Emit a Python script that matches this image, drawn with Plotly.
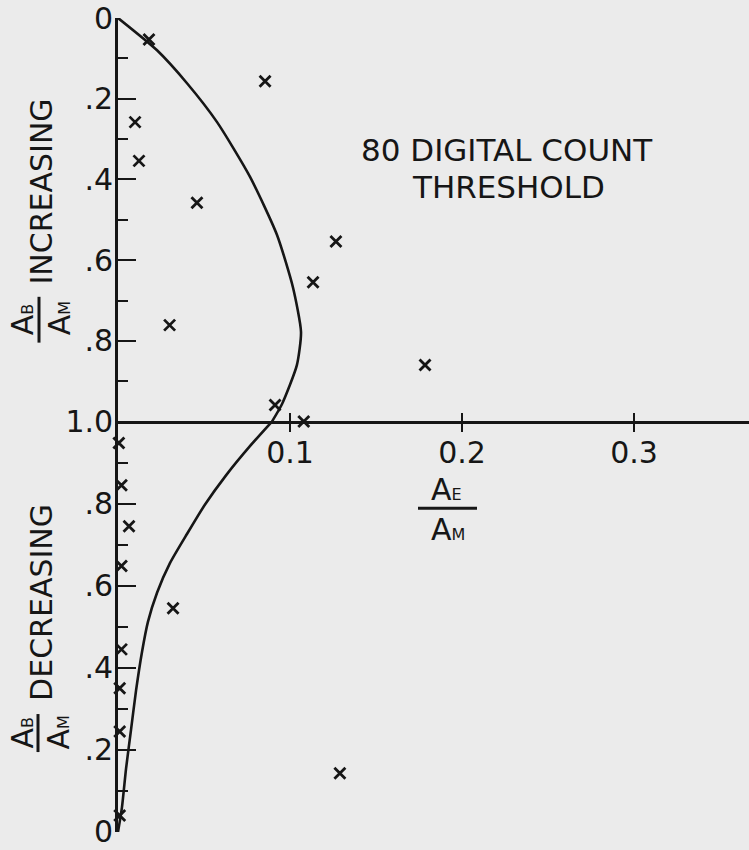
import plotly.graph_objects as go

# ---------------- data ----------------
# upper half: A_B/A_M increasing (0 at top, 1.0 at the x axis)
inc_x = [0.018, 0.0855, 0.0099, 0.0122, 0.0459, 0.1267, 0.1134, 0.030, 0.1785, 0.0913, 0.108]
inc_y = [0.053, 0.157, 0.258, 0.354, 0.458, 0.554, 0.655, 0.761, 0.860, 0.959, 1.0]

# lower half: A_B/A_M decreasing (1.0 at the x axis, 0 at bottom)
dec_x = [0.0005, 0.002, 0.0064, 0.002, 0.032, 0.002, 0.001, 0.001, 0.129, 0.001]
dec_y = [0.948, 0.845, 0.745, 0.648, 0.545, 0.445, 0.350, 0.245, 0.143, 0.040]

# fitted curve, upper branch
curve_inc_x = [0.0, 0.0227, 0.040, 0.0576, 0.0767, 0.0924, 0.1017, 0.1064, 0.104, 0.0953, 0.0895]
curve_inc_y = [0.0, 0.080, 0.161, 0.258, 0.393, 0.537, 0.667, 0.778, 0.860, 0.957, 1.0]

# fitted curve, lower branch
curve_dec_x = [0.0895, 0.0767, 0.0628, 0.0506, 0.0401, 0.0302, 0.0227, 0.0174,
               0.0140, 0.0105, 0.0076, 0.0047, 0.0023, 0.0]
curve_dec_y = [1.0, 0.940, 0.869, 0.798, 0.726, 0.655, 0.583, 0.512,
               0.440, 0.345, 0.250, 0.155, 0.060, 0.0]

x_tickvals = [0.1, 0.2, 0.3]
x_ticktext = ["0.1", "0.2", "0.3"]
inc_tickvals = [0, 0.2, 0.4, 0.6, 0.8, 1.0]
inc_ticktext = ["0", ".2", ".4", ".6", ".8", "1.0"]
dec_tickvals = [0, 0.2, 0.4, 0.6, 0.8]
dec_ticktext = ["0", ".2", ".4", ".6", ".8"]
minor_vals = [0.1, 0.3, 0.5, 0.7, 0.9]

# ---------------- layout geometry ----------------
W, H = 749, 850
ML, MR, MT, MB = 118, 0, 10, 5
PW, PH = W - ML - MR, H - MT - MB
AXIS_PY = 424  # pixel row of the 1.0 line
SPLIT = (H - MB - AXIS_PY) / PH


def PX(px):
    return (px - ML) / PW


def PY(py):
    return (H - MB - py) / PH


INK = "#161616"
BG = "#ebebeb"
FONT = "DejaVu Sans"

fig = go.Figure()

mk = dict(symbol="x-thin", size=11, color=INK, line=dict(width=2.8, color=INK))
line = dict(color=INK, width=2.6, shape="spline", smoothing=0.6)

fig.add_trace(go.Scatter(x=curve_inc_x, y=curve_inc_y, mode="lines", line=line,
                         xaxis="x", yaxis="y", cliponaxis=False, hoverinfo="skip"))
fig.add_trace(go.Scatter(x=curve_dec_x, y=curve_dec_y, mode="lines", line=line,
                         xaxis="x", yaxis="y2", cliponaxis=False, hoverinfo="skip"))
fig.add_trace(go.Scatter(x=inc_x, y=inc_y, mode="markers", marker=mk,
                         xaxis="x", yaxis="y", cliponaxis=False))
fig.add_trace(go.Scatter(x=dec_x, y=dec_y, mode="markers", marker=mk,
                         xaxis="x", yaxis="y2", cliponaxis=False))
# carrier for the upward half of the x ticks
fig.add_trace(go.Scatter(x=[0.2], y=[0.5], mode="markers", marker=dict(opacity=0),
                         xaxis="x2", yaxis="y", hoverinfo="skip"))

xr = [0, PW / 1720.0]
tickfont = dict(family=FONT, size=30, color=INK)

fig.update_layout(
    width=W, height=H,
    margin=dict(l=ML, r=MR, t=MT, b=MB, pad=0),
    paper_bgcolor=BG, plot_bgcolor=BG,
    showlegend=False,
    xaxis=dict(range=xr, domain=[0, 1], anchor="free", position=SPLIT,
               showline=True, linewidth=2.6, linecolor=INK,
               ticks="outside", ticklen=9, tickwidth=2, tickcolor=INK,
               tickvals=x_tickvals, ticktext=x_ticktext, tickfont=tickfont,
               ticklabeloverflow="allow", ticklabelstandoff=-5,
               showgrid=False, zeroline=False),
    xaxis2=dict(range=xr, domain=[0, 1], anchor="free", position=SPLIT,
                overlaying="x", showline=False,
                ticks="inside", ticklen=9, tickwidth=2, tickcolor=INK,
                tickvals=x_tickvals, showticklabels=False,
                showgrid=False, zeroline=False),
    yaxis=dict(domain=[SPLIT, 1], range=[1, 0], anchor="x",
               showline=True, linewidth=2.6, linecolor=INK,
               ticks="inside", ticklen=18, tickwidth=2, tickcolor=INK,
               tickvals=inc_tickvals, ticktext=inc_ticktext, tickfont=tickfont,
               ticklabeloverflow="allow", ticklabelstandoff=-4,
               minor=dict(tickvals=minor_vals, ticks="inside", ticklen=10,
                          tickwidth=2, tickcolor=INK, showgrid=False),
               showgrid=False, zeroline=False),
    yaxis2=dict(domain=[0, SPLIT], range=[0, 1], anchor="x",
                showline=True, linewidth=2.6, linecolor=INK,
                ticks="inside", ticklen=18, tickwidth=2, tickcolor=INK,
                tickvals=dec_tickvals, ticktext=dec_ticktext, tickfont=tickfont,
                ticklabeloverflow="allow", ticklabelstandoff=-4,
                minor=dict(tickvals=minor_vals, ticks="inside", ticklen=10,
                           tickwidth=2, tickcolor=INK, showgrid=False),
                showgrid=False, zeroline=False),
)

ann = []
small = "font-size:16px"


def note(px, py, text, size=30, angle=0):
    ann.append(dict(x=PX(px), y=PY(py), xref="paper", yref="paper",
                    text=text, showarrow=False, textangle=angle,
                    xanchor="center", yanchor="middle",
                    font=dict(family=FONT, size=size, color=INK)))


# title block
note(507, 145, "80 DIGITAL COUNT", size=31)
note(508, 183, "THRESHOLD", size=31)

# x-axis label fraction
note(447, 494, f"A<span style='{small}'>E</span>")
note(448, 535, f"A<span style='{small}'>M</span>")

# upper y label
note(42, 188, "INCREASING", angle=-90)
note(22, 319, f"A<span style='{small}'>B</span>", angle=-90)
note(59, 318, f"A<span style='{small}'>M</span>", angle=-90)
# lower y label
note(42, 610, "DECREASING", angle=-90)
note(23, 743, f"A<span style='{small}'>B</span>", angle=-90)
note(59, 743, f"A<span style='{small}'>M</span>", angle=-90)

fig.update_layout(annotations=ann)

shapes = [
    dict(type="line", xref="paper", yref="paper", x0=PX(418), x1=PX(477),
         y0=PY(513), y1=PY(513), line=dict(color=INK, width=3)),
    dict(type="line", xref="paper", yref="paper", x0=PX(39), x1=PX(39),
         y0=PY(296), y1=PY(343), line=dict(color=INK, width=3)),
    dict(type="line", xref="paper", yref="paper", x0=PX(38), x1=PX(38),
         y0=PY(724), y1=PY(763), line=dict(color=INK, width=3)),
]
fig.update_layout(shapes=shapes)

fig.write_html(
    "out.html",
    config={"displayModeBar": False},
    post_script=(
        "document.body.style.margin='0';"
        "document.body.style.padding='0';"
        "document.body.style.background='" + BG + "';"
        "document.body.style.overflow='hidden';"
    ),
)
